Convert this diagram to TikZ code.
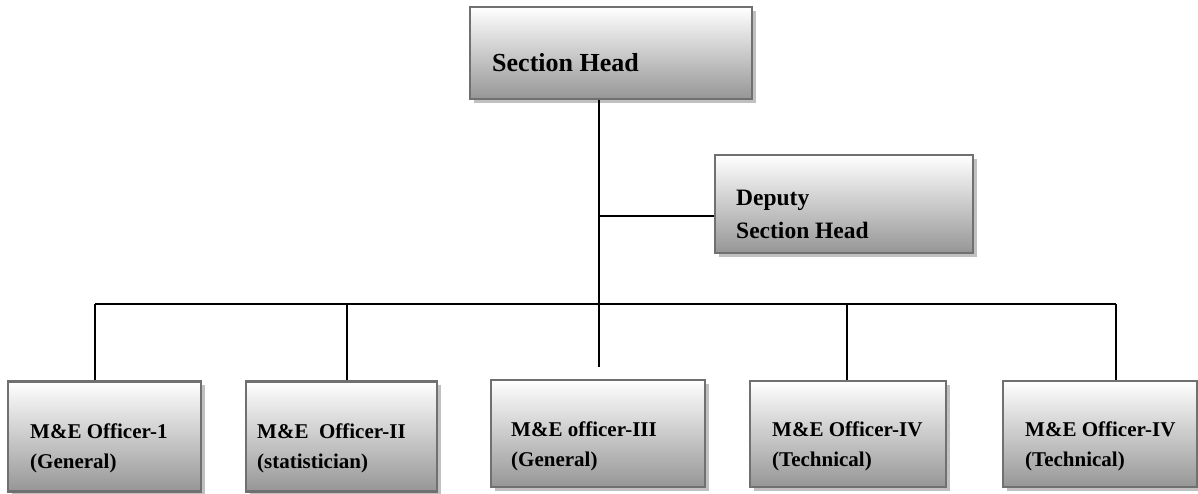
\documentclass[tikz,border=0pt]{standalone}
\usepackage{fontspec}
\setmainfont{Liberation Serif}
\usetikzlibrary{shadows}
\definecolor{boxborder}{RGB}{112,112,112}
\definecolor{boxbottom}{RGB}{150,150,150}
\definecolor{shadowgray}{RGB}{192,192,192}
\tikzset{
  orgbox/.style={draw=boxborder, line width=2.2pt, rectangle, inner sep=0pt,
    top color=white, bottom color=boxbottom,
    drop shadow={shadow xshift=3.5pt, shadow yshift=-3.5pt, fill=shadowgray, opacity=1}},
  link/.style={draw=black, line width=1.6pt},
  boxtext/.style={anchor=base west, inner sep=0pt, font=\bfseries},
}
\begin{document}
\begin{tikzpicture}[x=1pt,y=-1pt]
\useasboundingbox (0,0) rectangle (1198,493);
% boxes
\node[orgbox, minimum width=282pt, minimum height=92pt] (sh) at (611,53) {};
\node[orgbox, minimum width=258pt, minimum height=98pt] (dsh) at (844,204) {};
\node[orgbox, minimum width=193pt, minimum height=110pt] (o1) at (104.5,436.5) {};
\node[orgbox, minimum width=191pt, minimum height=110pt] (o2) at (341.5,436.5) {};
\node[orgbox, minimum width=214pt, minimum height=107pt] (o3) at (598,433.5) {};
\node[orgbox, minimum width=196pt, minimum height=106pt] (o4) at (848,434) {};
\node[orgbox, minimum width=194pt, minimum height=106pt] (o5) at (1100,434) {};
% texts
\node[boxtext, font=\bfseries\fontsize{26}{30}\selectfont] (sht) at (492,71) {Section Head};
\node[boxtext, font=\bfseries\fontsize{23.5}{33}\selectfont, align=left] (dsht) at (736,205) {Deputy};
\node[boxtext, font=\bfseries\fontsize{23.5}{33}\selectfont] (dsht2) at (736,238) {Section Head};
\node[boxtext, font=\bfseries\fontsize{21}{30}\selectfont] (o1a) at (30,438) {M\&E Officer-1};
\node[boxtext, font=\bfseries\fontsize{21}{30}\selectfont] (o1b) at (30,468) {(General)};
\node[boxtext, font=\bfseries\fontsize{21}{30}\selectfont] (o2a) at (257,438) {M\&E\ \ Officer-II};
\node[boxtext, font=\bfseries\fontsize{21}{30}\selectfont] (o2b) at (257,468) {(statistician)};
\node[boxtext, font=\bfseries\fontsize{21}{30}\selectfont] (o3a) at (511,436) {M\&E officer-III};
\node[boxtext, font=\bfseries\fontsize{21}{30}\selectfont] (o3b) at (511,466) {(General)};
\node[boxtext, font=\bfseries\fontsize{21}{30}\selectfont] (o4a) at (772,436) {M\&E Officer-IV};
\node[boxtext, font=\bfseries\fontsize{21}{30}\selectfont] (o4b) at (772,466) {(Technical)};
\node[boxtext, font=\bfseries\fontsize{21}{30}\selectfont] (o5a) at (1025,436) {M\&E Officer-IV};
\node[boxtext, font=\bfseries\fontsize{21}{30}\selectfont] (o5b) at (1025,466) {(Technical)};
% connector coordinates
\coordinate (trunkend) at (599,367);
\coordinate (j1) at (95,304);
\coordinate (j2) at (347,304);
\coordinate (j4) at (847,304);
\coordinate (j5) at (1116,304);
% connectors
\draw[link] (sh.south -| trunkend) -- (trunkend);
\draw[link] (sh.south -| trunkend) ++(0,116) coordinate (dj) -- (dsh.west |- dj);
\draw[link] (j1) -- (j5);
\draw[link] (j1) -- (o1.north -| j1);
\draw[link] (j2) -- (o2.north -| j2);
\draw[link] (j4) -- (o4.north -| j4);
\draw[link] (j5) -- (o5.north -| j5);
\end{tikzpicture}
\end{document}
